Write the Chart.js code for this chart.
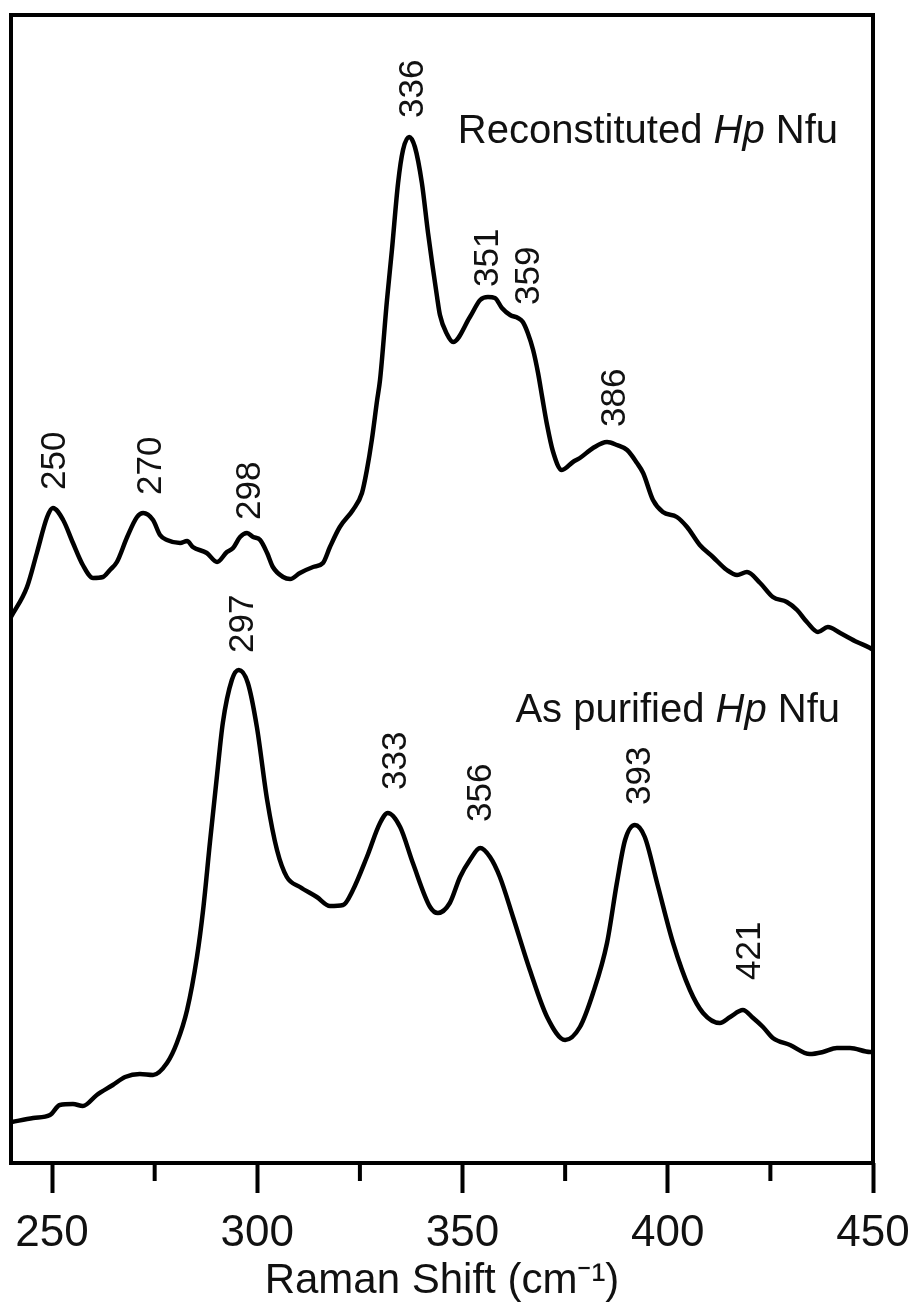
<!DOCTYPE html>
<html>
<head>
<meta charset="utf-8">
<title>Raman spectra - Hp Nfu</title>
<script src="https://cdn.jsdelivr.net/npm/chart.js@4.4.1/dist/chart.umd.min.js"></script>
<style>
    html, body { margin: 0; padding: 0; background: #fff; }
    #wrap { width: 913px; height: 1307px; position: relative; }
</style>
</head>
<body>
<div id="wrap"><canvas id="ramanChart"></canvas></div>
<script>
// Reconstituted Hp Nfu (upper trace)
const reconShift = [240.0, 243.9, 246.3, 248.8, 250.2, 252.7, 255.1, 257.5, 260.0, 262.4, 264.1, 265.8, 268.3, 270.7, 272.2,
    274.6, 276.3, 278.0, 281.2, 282.9, 284.3, 287.7, 290.2, 292.6, 294.1, 295.8, 297.5, 299.0, 300.7, 302.4, 303.8,
    306.3, 308.0, 310.4, 313.6, 316.0, 317.7, 320.1, 323.3, 325.5, 326.7, 327.9, 329.2, 329.9, 331.6, 332.8, 334.3,
    335.5, 337.0, 338.4, 340.1, 341.6, 343.8, 344.5, 346.2, 347.7, 351.8, 354.3, 356.2, 357.9, 359.6, 361.6, 363.5,
    364.7, 365.9, 367.2, 368.4, 369.4, 370.6, 372.0, 374.2, 376.9, 378.6, 381.8, 385.2, 387.6, 390.1, 392.5, 394.0,
    396.4, 398.8, 402.2, 404.7, 407.8, 411.0, 414.4, 416.9, 419.3, 422.5, 425.6, 429.0, 431.5, 433.9, 436.6, 439.0,
    442.0, 446.1, 449.3, 450.0];
const reconIntensity = [546, 576, 610, 646, 655, 643, 620, 598, 585, 586, 593, 601, 626, 646, 650,
    643, 628, 623, 620, 622, 616, 610, 601, 611, 615, 626, 630, 626, 623, 610, 596,
    586, 584, 590, 596, 600, 616, 636, 653, 670, 693, 723, 763, 783, 863, 913, 980,
    1013, 1026, 1016, 980, 930, 866, 848, 829, 821, 846, 863, 866, 865, 855, 848, 845,
    841, 830, 813, 790, 766, 738, 712, 693, 701, 705, 715, 721, 718, 713, 700, 690,
    663, 651, 646, 636, 618, 606, 593, 588, 591, 580, 566, 561, 553, 541, 531, 536,
    530, 521, 515, 513];

// As purified Hp Nfu (lower trace)
const purifiedShift = [240.2, 245.4, 249.5, 251.9, 255.1, 257.5, 260.9, 264.8, 267.8, 271.4, 274.6, 278.0, 280.4,
    282.9, 285.3, 286.8, 288.5, 290.2, 291.6, 293.8, 295.5, 297.7, 299.9, 302.4, 304.8, 307.2, 310.4, 314.5, 317.7,
    320.9, 323.3, 326.7, 329.9, 331.8, 334.8, 337.9, 342.1, 344.0, 346.9, 349.4, 351.8, 354.3, 356.7, 359.1, 362.3,
    366.4, 370.6, 375.0, 378.6, 381.8, 385.2, 387.6, 389.6, 392.0, 394.4, 397.4, 401.3, 405.4, 408.6, 412.7, 415.2,
    418.3, 420.8, 423.2, 425.6, 429.8, 434.6, 437.8, 441.2, 444.4, 449.3, 450.0];
const purifiedIntensity = [41, 45, 48, 58, 59, 57, 68, 78, 86, 89, 88, 100, 120,
    153, 206, 253, 322, 388, 440, 483, 493, 480, 436, 363, 313, 286, 276, 266, 257,
    258, 273, 306, 340, 350, 336, 300, 256, 250, 260, 286, 303, 315, 306, 286, 246,
    193, 146, 123, 136, 170, 220, 280, 323, 338, 326, 280, 220, 173, 150, 140, 146,
    153, 145, 136, 125, 118, 109, 111, 115, 115, 111, 111];

// peak labels: text, x where it sits, and the intensity level where the text starts
const reconPeakText = ['250', '270', '298', '336', '351', '359', '386'];
const reconPeakAt = [250.2, 273.4, 297.5, 337.4, 355.5, 365.7, 386.6];
const reconPeakLevel = [673, 668, 643, 1045, 876, 858, 736];
const purifiedPeakText = ['297', '333', '356', '393', '421'];
const purifiedPeakAt = [295.8, 333.1, 354.0, 392.5, 419.5];
const purifiedPeakLevel = [510, 373, 341, 358, 183];

// axis ticks
const majorTicks = [250, 300, 350, 400, 450];
const minorTicks = [275, 325, 375, 425];

function toPoints(xs, ys) {
    return xs.map((x, i) => ({ x: x, y: ys[i] }));
}

document.addEventListener('DOMContentLoaded', function() {
    const ctx = document.getElementById('ramanChart').getContext('2d');
    const fontFamily = '"Liberation Sans", Arial, Helvetica, sans-serif';
    Chart.defaults.font.family = fontFamily;
    Chart.defaults.color = '#111';

    // frame, minor ticks, peak labels and trace names
    const decorations = {
        id: 'decorations',
        afterDraw(chart) {
            const c = chart.ctx;
            const area = chart.chartArea;
            const xs = chart.scales.x;
            const ys = chart.scales.y;
            c.save();

            // box around the plot
            c.strokeStyle = '#000';
            c.lineWidth = 4;
            c.strokeRect(area.left, area.top, area.right - area.left, area.bottom - area.top);

            // minor ticks
            minorTicks.forEach(v => {
                const px = xs.getPixelForValue(v);
                c.beginPath();
                c.moveTo(px, area.bottom);
                c.lineTo(px, area.bottom + 18);
                c.stroke();
            });

            // rotated peak labels
            const fs = 35;
            c.fillStyle = '#111';
            c.font = fs + 'px ' + fontFamily;
            c.textAlign = 'left';
            c.textBaseline = 'alphabetic';
            function peakLabels(texts, at, level) {
                texts.forEach((t, i) => {
                    c.save();
                    c.translate(xs.getPixelForValue(at[i]), ys.getPixelForValue(level[i]));
                    c.rotate(-Math.PI / 2);
                    c.fillText(t, 0, fs * 0.716 / 2);
                    c.restore();
                });
            }
            peakLabels(reconPeakText, reconPeakAt, reconPeakLevel);
            peakLabels(purifiedPeakText, purifiedPeakAt, purifiedPeakLevel);

            // trace names with italic "Hp"
            function traceName(first, right, baseline) {
                const normal = '40px ' + fontFamily;
                const italic = 'italic 40px ' + fontFamily;
                c.font = normal;
                const w1 = c.measureText(first).width;
                const w3 = c.measureText(' Nfu').width;
                c.font = italic;
                const w2 = c.measureText('Hp').width;
                let x = right - (w1 + w2 + w3);
                c.textAlign = 'left';
                c.font = normal;
                c.fillText(first, x, baseline);
                x += w1;
                c.font = italic;
                c.fillText('Hp', x, baseline);
                x += w2;
                c.font = normal;
                c.fillText(' Nfu', x, baseline);
            }
            traceName('Reconstituted ', area.right - 35, 143);
            traceName('As purified ', area.right - 33, 722);

            c.restore();
        }
    };

    new Chart(ctx, {
        type: 'line',
        data: {
            datasets: [{
                label: 'Reconstituted Hp Nfu',
                data: toPoints(reconShift, reconIntensity),
                borderColor: '#000',
                borderWidth: 4.5,
                pointRadius: 0,
                cubicInterpolationMode: 'monotone',
                fill: false
            }, {
                label: 'As purified Hp Nfu',
                data: toPoints(purifiedShift, purifiedIntensity),
                borderColor: '#000',
                borderWidth: 4.5,
                pointRadius: 0,
                cubicInterpolationMode: 'monotone',
                fill: false
            }]
        },
        options: {
            responsive: true,
            maintainAspectRatio: false,
            devicePixelRatio: 1,
            animation: false,
            layout: {
                padding: { left: 11, right: 40, top: 15, bottom: 0 }
            },
            plugins: {
                legend: { display: false },
                tooltip: { enabled: false }
            },
            scales: {
                x: {
                    type: 'linear',
                    min: 240,
                    max: 450,
                    afterBuildTicks: (scale) => {
                        scale.ticks = majorTicks.map(v => ({ value: v }));
                    },
                    afterFit: (scale) => {
                        // fixed axis height, and no extra side room for the end labels
                        scale.height = 144;
                        scale.paddingLeft = 0;
                        scale.paddingRight = 0;
                    },
                    border: { display: false },
                    grid: {
                        drawOnChartArea: false,
                        drawTicks: true,
                        tickLength: 30,
                        tickWidth: 4,
                        tickColor: '#000'
                    },
                    ticks: {
                        padding: 14,
                        maxRotation: 0,
                        autoSkip: false,
                        color: '#111',
                        font: { size: 44 }
                    },
                    title: {
                        display: true,
                        text: 'Raman Shift (cm\u207B\u00B9)',
                        color: '#111',
                        font: { size: 42 },
                        padding: { top: 0, bottom: 0 }
                    }
                },
                y: {
                    display: false,
                    min: 0,
                    max: 1148
                }
            }
        },
        plugins: [decorations]
    });
});
</script>
</body>
</html>
